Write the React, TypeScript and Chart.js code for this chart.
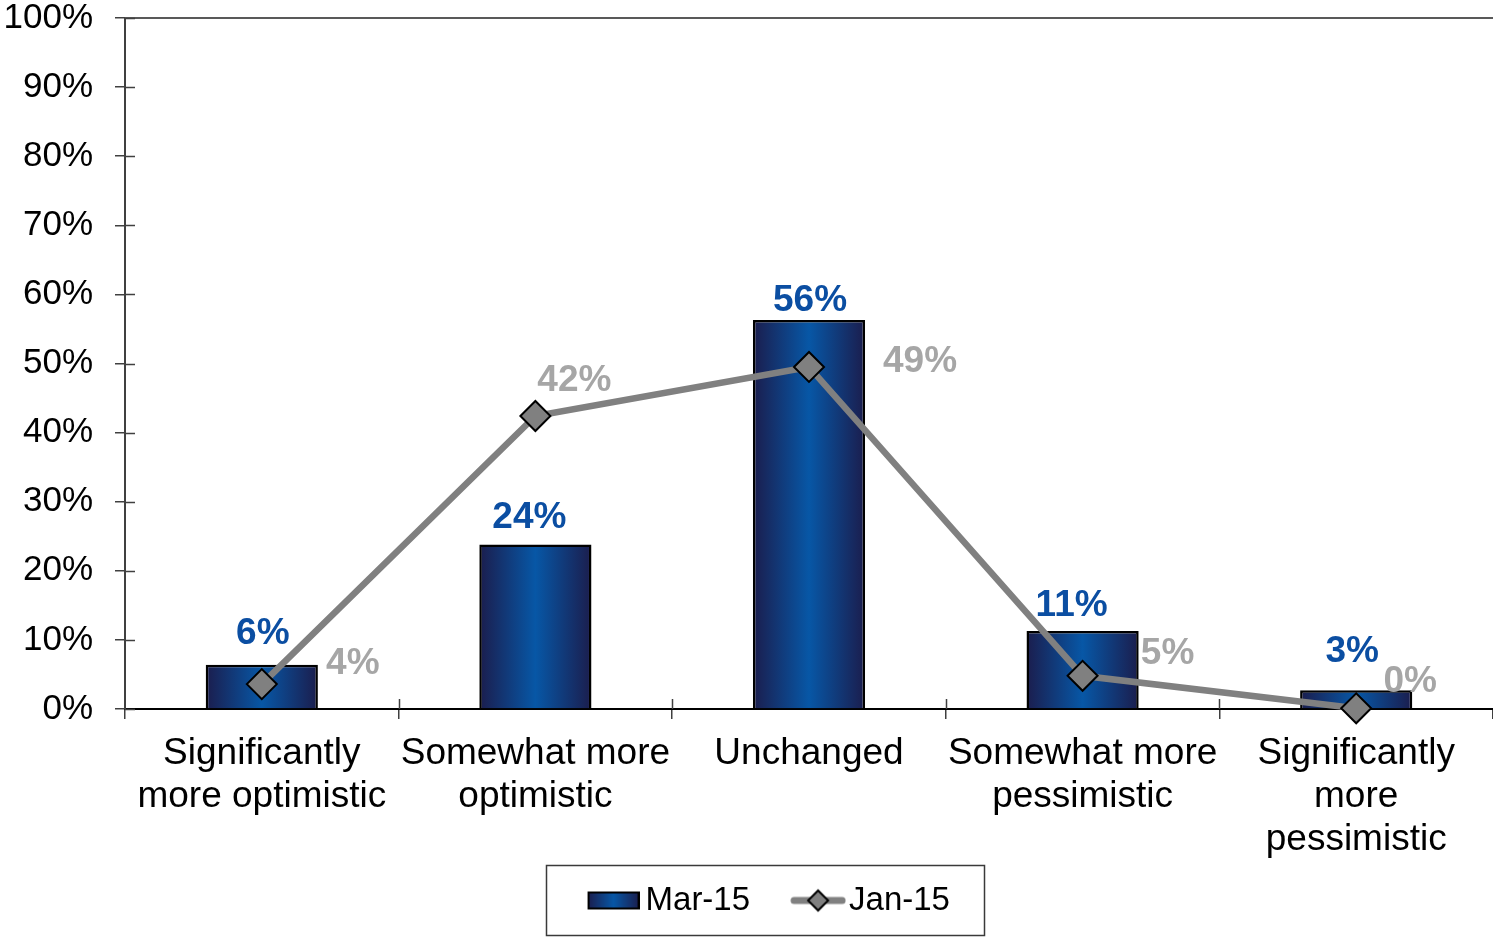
import React, { useEffect, useRef } from 'react';
import { Chart, registerables } from 'chart.js';

Chart.register(...registerables);

const categories: string[][] = [
  ['Significantly', 'more optimistic'],
  ['Somewhat more', 'optimistic'],
  ['Unchanged'],
  ['Somewhat more', 'pessimistic'],
  ['Significantly', 'more', 'pessimistic'],
];
const mar15Values = [6.4, 23.8, 56.3, 11.3, 2.7];
const jan15Values = [3.6, 42.4, 49.5, 4.8, 0.1];
const mar15Labels = ['6%', '24%', '56%', '11%', '3%'];
const jan15Labels = ['4%', '42%', '49%', '5%', '0%'];
const seriesNames = ['Mar-15', 'Jan-15'];
const yTickStep = 10;

// label placement (pixels relative to marks)
const barLabelDx = [1, -6, 1, -11, -4];
const barLabelDy = [-31, -27, -19, -25, -39];
const lineLabelDx = [91, 39, 111, 85, 54];
const lineLabelDy = [-20, -35, -5, -22, -27];

const FONT = "Arial, 'Liberation Sans', sans-serif";
const DARK = '#1b1d4d';
const MID = '#0757a6';
const BAR_PCT = 0.41;
const LEG_BOX_W = 52;
const LEG_EXTRA = 10.5;

function makeBarGradient(ctx: CanvasRenderingContext2D, x0: number, x1: number) {
  const g = ctx.createLinearGradient(x0, 0, x1, 0);
  g.addColorStop(0, DARK);
  g.addColorStop(0.5, MID);
  g.addColorStop(1, DARK);
  return g;
}

// legend marker images: drawn right-aligned inside a wider transparent image,
// so that the marker sits close to its label text
function makeBarLegendImg() {
  const c = document.createElement('canvas');
  const W = 52;
  const h = 22;
  c.width = LEG_BOX_W + 2 * LEG_EXTRA;
  c.height = h;
  const x = c.getContext('2d')!;
  const left = c.width - W;
  const top = 2;
  const bh = 18;
  x.fillStyle = makeBarGradient(x, left, left + W);
  x.fillRect(left, top, W, bh);
  x.lineWidth = 2;
  x.strokeStyle = '#000';
  x.strokeRect(left + 1, top + 1, W - 2, bh - 2);
  return c;
}

function makeLineLegendImg() {
  const c = document.createElement('canvas');
  const W = 56;
  const h = 26;
  c.width = LEG_BOX_W + 2 * LEG_EXTRA + 6;
  c.height = h;
  const x = c.getContext('2d')!;
  const left = c.width - W;
  const cy = h / 2;
  x.strokeStyle = '#808080';
  x.lineWidth = 7;
  x.lineCap = 'round';
  x.beginPath();
  x.moveTo(left + 4, cy);
  x.lineTo(left + W - 4, cy);
  x.stroke();
  const cx = left + W / 2;
  const r = 10;
  x.beginPath();
  x.moveTo(cx, cy - r);
  x.lineTo(cx + r, cy);
  x.lineTo(cx, cy + r);
  x.lineTo(cx - r, cy);
  x.closePath();
  x.fillStyle = '#808080';
  x.fill();
  x.lineWidth = 2;
  x.strokeStyle = '#000';
  x.stroke();
  return c;
}

const decorPlugin = {
  id: 'decor',
  afterLayout(chart: any) {
    // let the multi-line category labels extend below the axis box without clipping
    const xs = chart.scales.x;
    if (xs) {
      xs.bottom += 30;
      xs.height += 30;
    }
    const lg = chart.legend;
    if (lg) {
      lg.left += 17;
      lg.right += 17;
    }
  },
  afterDraw(chart: any) {
    const ctx = chart.ctx as CanvasRenderingContext2D;
    const { left, right, top, bottom } = chart.chartArea;
    const xs = chart.scales.x;
    const ys = chart.scales.y;
    ctx.save();
    // top border
    ctx.strokeStyle = '#595959';
    ctx.lineWidth = 2;
    ctx.beginPath();
    ctx.moveTo(left, top);
    ctx.lineTo(right, top);
    ctx.stroke();
    // inner halves of crossing ticks
    ctx.strokeStyle = '#404040';
    ctx.lineWidth = 1.5;
    ctx.beginPath();
    ys.ticks.forEach((t: any) => {
      const y = Math.round(ys.getPixelForValue(t.value)) + 0.5;
      ctx.moveTo(left, y);
      ctx.lineTo(left + 10, y);
    });
    for (let i = 1; i < categories.length; i++) {
      const x = Math.round(xs.getPixelForValue(i - 0.5)) + 0.5;
      ctx.moveTo(x, bottom);
      ctx.lineTo(x, bottom - 10);
    }
    ctx.stroke();
    ctx.restore();

    // data labels
    ctx.save();
    ctx.font = `bold 37px ${FONT}`;
    ctx.textAlign = 'center';
    ctx.textBaseline = 'middle';
    const barMeta = chart.getDatasetMeta(0);
    barMeta.data.forEach((el: any, i: number) => {
      ctx.fillStyle = '#0b4ea2';
      ctx.fillText(mar15Labels[i], el.x + barLabelDx[i], el.y + barLabelDy[i]);
    });
    const lineMeta = chart.getDatasetMeta(1);
    lineMeta.data.forEach((el: any, i: number) => {
      ctx.fillStyle = '#a6a6a6';
      ctx.fillText(jan15Labels[i], el.x + lineLabelDx[i], el.y + lineLabelDy[i]);
    });
    ctx.restore();

    // legend frame
    const lg = chart.legend;
    const hb = lg && lg.legendHitBoxes;
    if (hb && hb.length) {
      const first = hb[0];
      const last = hb[hb.length - 1];
      const l = first.left + LEG_EXTRA - 42;
      const r = last.left + last.width + 34;
      const cy = first.top + first.height / 2;
      ctx.save();
      ctx.strokeStyle = '#3a3a3a';
      ctx.lineWidth = 1.5;
      ctx.strokeRect(Math.round(l) + 0.5, Math.round(cy - 36) + 0.5, Math.round(r - l), 70);
      ctx.restore();
    }
  },
};

export default function App() {
  const ref = useRef<HTMLCanvasElement | null>(null);
  useEffect(() => {
    if (!ref.current) return;
    const barImg = makeBarLegendImg();
    const lineImg = makeLineLegendImg();
    const chart = new Chart(ref.current, {
      type: 'bar',
      data: {
        labels: categories,
        datasets: [
          {
            type: 'bar',
            label: seriesNames[0],
            data: mar15Values,
            order: 1,
            barPercentage: BAR_PCT,
            categoryPercentage: 1,
            borderColor: '#000',
            borderWidth: 2.5,
            backgroundColor: (c: any) => {
              const ch = c.chart;
              const xs = ch.scales && ch.scales.x;
              if (!ch.chartArea || !xs || c.dataIndex === undefined) return MID;
              const cx = xs.getPixelForValue(c.dataIndex);
              const w = (xs.width / categories.length) * BAR_PCT;
              return makeBarGradient(ch.ctx, cx - w / 2, cx + w / 2);
            },
          } as any,
          {
            type: 'line',
            label: seriesNames[1],
            data: jan15Values,
            order: 0,
            clip: false,
            borderColor: '#808080',
            borderWidth: 6.5,
            pointStyle: 'rectRot',
            pointRadius: 15,
            pointBackgroundColor: '#808080',
            pointBorderColor: '#000',
            pointBorderWidth: 2,
            tension: 0,
          } as any,
        ],
      },
      options: {
        animation: false,
        responsive: false,
        maintainAspectRatio: false,
        layout: { autoPadding: false, padding: { top: 18, right: 0, bottom: 10, left: 0 } },
        plugins: {
          tooltip: { enabled: false },
          legend: {
            position: 'bottom',
            labels: {
              usePointStyle: true,
              pointStyleWidth: LEG_BOX_W,
              padding: 30.5,
              color: '#000',
              font: { family: FONT, size: 33 },
              generateLabels: () => [
                { text: seriesNames[0], pointStyle: barImg, datasetIndex: 0, hidden: false, lineWidth: 0 } as any,
                { text: seriesNames[1], pointStyle: lineImg, datasetIndex: 1, hidden: false, lineWidth: 0 } as any,
              ],
            },
          },
        },
        scales: {
          x: {
            grid: { display: true, drawOnChartArea: false, drawTicks: true, tickLength: 10, color: '#404040', lineWidth: 1.5 },
            border: { display: true, color: '#000', width: 2 },
            ticks: {
              autoSkip: false,
              maxRotation: 0,
              minRotation: 0,
              padding: 13,
              color: '#000',
              font: { family: FONT, size: 37, lineHeight: 1.17 },
            },
            afterFit: (s: any) => { s.height = 144.5; },
          },
          y: {
            min: 0,
            max: 100,
            grid: { display: true, drawOnChartArea: false, drawTicks: true, tickLength: 10, color: '#404040', lineWidth: 1.5 },
            border: { display: true, color: '#404040', width: 2 },
            ticks: {
              stepSize: yTickStep,
              padding: 22,
              color: '#000',
              font: { family: FONT, size: 35, lineHeight: 1 },
              callback: (v: any) => `${v}%`,
            },
            afterFit: (s: any) => {
              s.width = 125;
              s.paddingTop = 0;
              s.paddingBottom = 0;
            },
          },
        },
      },
      plugins: [decorPlugin],
    });
    return () => chart.destroy();
  }, []);
  return (
    <div style={{ position: 'fixed', left: 0, top: 0, width: 1493, height: 937, background: '#fff' }}>
      <canvas ref={ref} width={1493} height={937} style={{ width: 1493, height: 937, display: 'block' }} />
    </div>
  );
}
